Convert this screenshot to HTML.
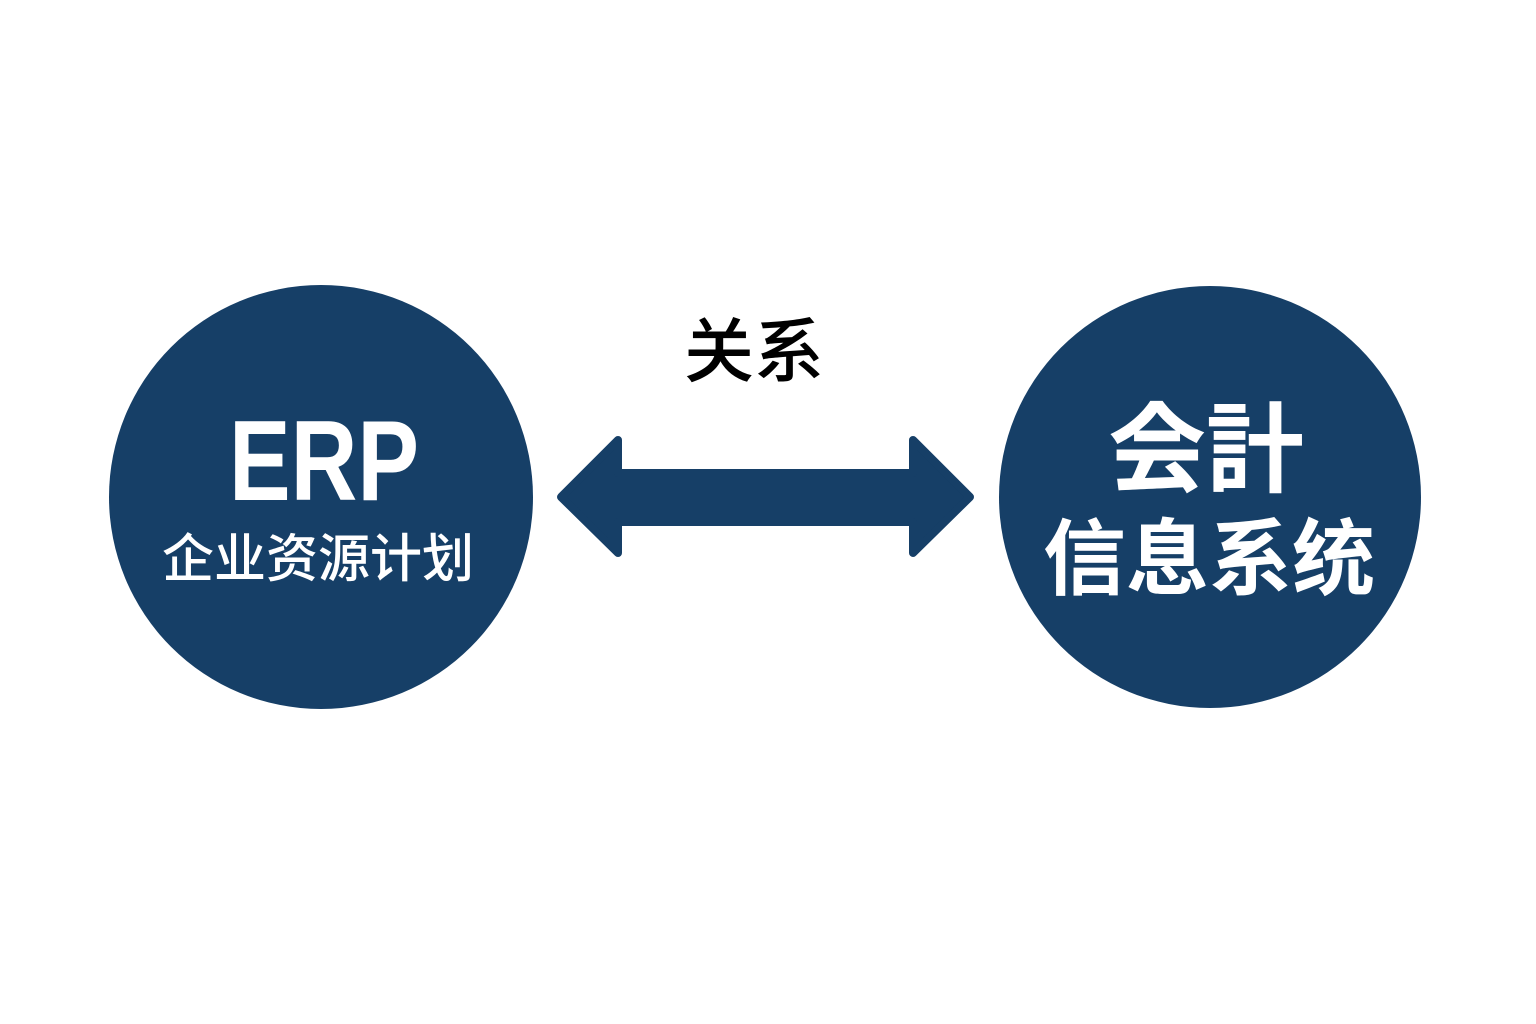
<!DOCTYPE html>
<html><head><meta charset="utf-8"><style>
html,body{margin:0;padding:0;background:#fff}
svg{display:block}
</style></head><body>
<svg width="1536" height="1024" viewBox="0 0 1536 1024" xmlns="http://www.w3.org/2000/svg">
<rect width="1536" height="1024" fill="#fff"/>
<circle cx="321" cy="497" r="212" fill="#163f67"/>
<circle cx="1210" cy="497" r="211" fill="#163f67"/>
<polygon points="561,497 618,440 618,473 913,473 913,440 970,497 913,553 913,522 618,522 618,553" fill="#163f67" stroke="#163f67" stroke-width="8" stroke-linejoin="round"/>
<g font-family="Liberation Sans, Noto Sans CJK SC, sans-serif" fill="#fff" text-anchor="middle" font-weight="bold">
<text x="324" y="500" font-size="114" textLength="190" lengthAdjust="spacingAndGlyphs">ERP</text>
<text x="318" y="577" font-size="52" font-weight="500" font-family="Noto Sans CJK SC, sans-serif">企业资源计划</text>
<text x="1206" y="484" font-size="98" font-family="Noto Sans CJK JP, sans-serif">会計</text>
<text x="1209" y="588" font-size="83" font-family="Noto Sans CJK SC, sans-serif">信息系统</text>
</g>
<text x="754" y="376" font-size="70" font-weight="500" font-family="Noto Sans CJK SC, sans-serif" text-anchor="middle" fill="#000">关系</text>
</svg>
</body></html>
